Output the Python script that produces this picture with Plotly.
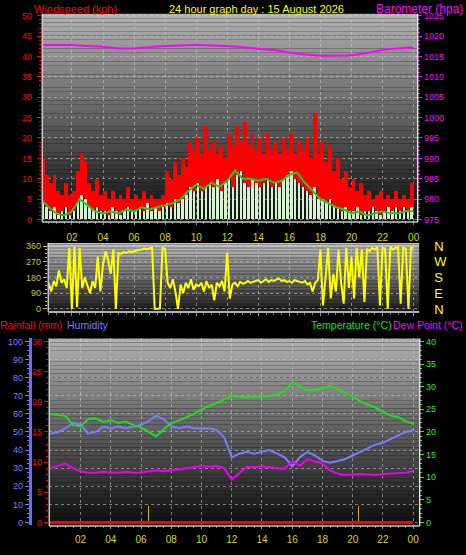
import plotly.graph_objects as go

W, H = 466, 555
def fx(p): return p / W
def fy(p): return 1 - p / H

# ---------------- data ----------------
# top panel: wind (15-minute blocks starting at each quarter hour)
wind_gust = [15, 11, 9, 11, 7, 6, 9, 6, 7, 12, 16, 14, 9, 7, 10, 6,
             7, 5, 7, 5, 6, 5, 8, 5, 6, 5, 7, 5, 6, 5, 5, 6,
             12, 10, 14, 11, 15, 13, 19, 17, 20, 16, 23, 17, 19, 16, 18, 15,
             21, 18, 23, 19, 24, 18, 21, 17, 20, 16, 21, 17, 19, 16, 20, 17,
             21, 16, 19, 17, 20, 15, 26, 16, 19, 14, 18, 12, 15, 10, 12, 8,
             10, 7, 9, 6, 7, 5, 6, 7, 5, 6, 5, 7, 5, 6, 5, 9]
wind_speed = [4, 3, 2, 3, 1, 2, 3, 1, 2, 4, 6, 5, 3, 2, 3, 2,
              2, 1, 3, 2, 1, 2, 3, 2, 2, 3, 2, 4, 2, 3, 2, 3,
              4, 3, 5, 4, 5, 6, 8, 7, 9, 7, 8, 9, 8, 10, 7, 9,
              10, 8, 11, 12, 9, 8, 10, 9, 8, 9, 10, 8, 9, 8, 10, 11,
              12, 10, 9, 8, 7, 6, 8, 5, 5, 4, 5, 3, 3, 2, 3, 2,
              2, 3, 1, 2, 2, 3, 2, 1, 2, 3, 2, 3, 2, 3, 2, 3]
t_quarter = [0.125 + 0.25 * i for i in range(len(wind_gust))]

# 10-minute average wind, half-hourly
wind_avg = [5, 3, 1.5, 1, 2, 5, 3.5, 2, 1.5, 2, 1.5, 2.5, 2, 3, 2.5, 3,
            3.5, 4, 5, 7, 8.5, 7.5, 9, 8, 9.5, 12, 10, 10, 9.5, 10, 9, 9.5,
            11, 11.5, 9, 7, 5, 4, 3, 2.5, 1.5, 2, 1, 1.5, 2, 1.5, 1.5, 2, 2]
t_half = [0.5 * i for i in range(len(wind_avg))]

# barometer, hourly
baro = [1017.8, 1017.8, 1017.8, 1017.6, 1017.4, 1017.0, 1017.0, 1017.3, 1017.6,
        1017.7, 1017.8, 1017.7, 1017.6, 1017.3, 1016.9, 1016.6, 1016.0, 1015.5,
        1015.2, 1015.2, 1015.3, 1015.9, 1016.6, 1017.0, 1017.2]
t_hour = [float(i) for i in range(len(baro))]

# middle panel: wind direction (deg), every 10 minutes from 00:30
wind_dir = [150, 100, 160,
            130, 220, 150, 170, 120, 350,
            0, 355, 10, 350, 120, 180,
            130, 90, 160, 120, 300, 100,
            250, 330, 280, 200, 340, 0,
            320, 315, 325, 320, 330, 325,
            330, 335, 338, 340, 345, 342,
            348, 350, 0, 0, 2, 350,
            345, 150, 120, 170, 100, 0,
            140, 90, 150, 120, 170, 110,
            140, 130, 150, 100, 160, 120,
            140, 50, 150, 130, 160, 100,
            320, 60, 140, 150, 130, 155,
            145, 150, 160, 150, 155, 160,
            165, 150, 160, 170, 155, 165,
            160, 170, 175, 160, 165, 155,
            160, 150, 165, 160, 155, 150,
            160, 140, 150, 100, 150, 165,
            340, 20, 180, 350, 60, 200,
            100, 340, 150, 30, 350, 120,
            300, 60, 350, 180, 340, 40,
            345, 330, 350, 340, 355, 20,
            350, 345, 0, 355, 340, 350,
            355, 30, 350, 345, 0, 350,
            350]
t_dir = [0.5 + i / 6 for i in range(len(wind_dir))]

# bottom panel, half-hourly
temperature = [24.0, 23.8, 23.5, 21.5, 21.2, 22.8, 23.0, 22.2, 22.6, 22.0, 22.3, 21.5,
               21.0, 20.0, 19.0, 20.6, 22.0, 22.5, 23.2, 24.0, 25.0, 25.8, 26.4, 27.2,
               28.0, 27.8, 27.6, 27.8, 27.9, 28.0, 28.3, 29.0, 30.9, 30.2, 29.2, 29.3,
               29.6, 30.2, 29.4, 28.6, 27.8, 26.8, 26.0, 25.4, 24.5, 23.6, 23.3, 22.4, 21.8]
humidity = [49, 50, 52, 55, 54, 49, 50, 53, 52, 53, 52, 53, 54, 56, 59, 57, 53, 52,
            53, 52, 52, 52, 51, 47, 36, 38, 39, 38, 39, 40, 38, 36, 31, 36, 39, 37,
            34, 33, 34, 35, 37, 39, 41, 43, 44, 46, 48, 50, 51]
dew_point = [12.0, 12.5, 13.0, 12.0, 11.3, 11.0, 11.0, 11.2, 11.0, 11.0, 11.2, 11.0,
             11.0, 11.3, 11.5, 11.3, 11.5, 11.8, 12.0, 12.2, 12.5, 12.3, 12.5, 12.0,
             9.5, 11.0, 12.3, 12.2, 12.4, 12.2, 12.0, 11.8, 13.5, 12.5, 14.0, 13.5,
             13.0, 11.5, 10.8, 10.5, 10.6, 10.7, 10.6, 10.5, 10.7, 10.8, 10.8, 11.0, 11.4]
t_bottom = [0.5 * i for i in range(len(temperature))]

rainfall = [0] * 25
t_rain = [float(i) for i in range(25)]
rain_marks_t = [6.5, 20.4]
rain_marks_v = [2.8, 2.8]

hour_ticks = [2, 4, 6, 8, 10, 12, 14, 16, 18, 20, 22, 24]
hour_labels = ["02", "04", "06", "08", "10", "12", "14", "16", "18", "20", "22", "00"]

# ---------------- style ----------------
FONT = "Liberation Sans, Arial, sans-serif"
RED = "#ff0000"
MAG = "#ff00ff"
YEL = "#ffff00"
TICKYEL = "#d8d800"
HUMC = "#7b7bff"
TEMPC = "#22dd22"
GRID = "rgba(205,205,205,0.55)"

fig = go.Figure()

# top panel
fig.add_trace(go.Bar(x=t_quarter, y=[g - s for g, s in zip(wind_gust, wind_speed)], base=wind_speed,
                     width=0.25, marker=dict(color=RED, line=dict(width=0)), xaxis="x", yaxis="y"))
fig.add_trace(go.Bar(x=t_quarter, y=wind_speed, width=0.16,
                     marker=dict(color="#d6f2d2", line=dict(width=0)), xaxis="x", yaxis="y"))
fig.add_trace(go.Scatter(x=t_half, y=wind_avg, mode="lines", line=dict(color="#1ecc1e", width=2),
                         xaxis="x", yaxis="y"))
fig.add_trace(go.Scatter(x=t_hour, y=baro, mode="lines", line=dict(color=MAG, width=2, shape="spline"),
                         xaxis="x", yaxis="y2"))

# middle panel
fig.add_trace(go.Scatter(x=t_dir, y=wind_dir, mode="lines", line=dict(color=YEL, width=2),
                         xaxis="x2", yaxis="y3"))
fig.add_trace(go.Scatter(x=t_dir, y=wind_dir, mode="lines", line=dict(color="rgba(0,0,0,0)", width=0),
                         xaxis="x2", yaxis="y7", hoverinfo="skip"))

# bottom panel
fig.add_trace(go.Scatter(x=t_rain, y=rainfall, mode="lines", line=dict(color=RED, width=3),
                         xaxis="x3", yaxis="y4"))
fig.add_trace(go.Bar(x=rain_marks_t, y=rain_marks_v, width=0.08, marker=dict(color="#c8b400", line=dict(width=0)),
                     xaxis="x3", yaxis="y4"))
fig.add_trace(go.Scatter(x=t_bottom, y=humidity, mode="lines", line=dict(color=HUMC, width=2),
                         xaxis="x3", yaxis="y5"))
fig.add_trace(go.Scatter(x=t_bottom, y=dew_point, mode="lines", line=dict(color="#ee00ee", width=2),
                         xaxis="x3", yaxis="y6"))
fig.add_trace(go.Scatter(x=t_bottom, y=temperature, mode="lines", line=dict(color=TEMPC, width=2),
                         xaxis="x3", yaxis="y6"))

# ---------------- background gradients ----------------
shapes = []
def gradient(x0, x1, y0, y1, c_top, c_bot, n=48):
    for i in range(n):
        a = y0 + (y1 - y0) * i / n
        b = y0 + (y1 - y0) * (i + 1) / n
        f = (i + 0.5) / n
        c = int(round(c_top + (c_bot - c_top) * f))
        shapes.append(dict(type="rect", xref="paper", yref="paper", x0=fx(x0), x1=fx(x1),
                           y0=fy(b), y1=fy(a), fillcolor=f"rgb({c},{c},{c})",
                           line=dict(width=0), layer="below"))

def border(x0, y0, x1, y1, color="#c8c8c8", w=1.5):
    shapes.append(dict(type="line", xref="paper", yref="paper", x0=fx(x0), x1=fx(x1),
                       y0=fy(y0), y1=fy(y1), line=dict(color=color, width=w), layer="above"))

gradient(42, 419, 10, 221, 178, 14)
gradient(48, 421, 243, 313, 192, 28)
gradient(49, 421, 340, 530, 176, 12)
border(42.5, 10, 42.5, 221.5)
border(42.5, 221.5, 419.5, 221.5)
border(419.5, 10, 419.5, 221.5, "#e0e0e0")
border(48.5, 243, 48.5, 313)
border(48.5, 313, 421, 313, "#b0b0b0", 2)
border(49.5, 340, 49.5, 530.5)
border(49.5, 530.5, 421.5, 530.5)
border(421.5, 340, 421.5, 530.5, "#e0e0e0")

# ---------------- annotations ----------------
def label(text, x, y, color, anchor="left", size=12):
    return dict(text=text, x=fx(x), y=fy(y), xref="paper", yref="paper", xanchor=anchor,
                yanchor="middle", showarrow=False, borderpad=0,
                font=dict(family=FONT, size=size, color=color))

annotations = [
    label("Windspeed (kph)", 33, 5.5, RED, size=11),
    label("24 hour graph day : 15 August 2026", 258, 5.5, YEL, "center", 11),
    label("Barometer (hpa)", 466, 5.5, MAG, "right", 12),
    label("Rainfall (mm)", -1, 326, RED, size=10.5),
    label("Humidity", 66, 326, HUMC, size=10.5),
    label("Temperature (°C)", 311, 326, "#00ee00", size=10.5),
    label("Dew Point (°C)", 394, 326, MAG, size=10.5),
]

def xax(domain, rng, anchor, labels=True, standoff=3):
    return dict(domain=[fx(domain[0]), fx(domain[1])], range=rng, anchor=anchor,
                showgrid=True, gridcolor=GRID,
                griddash="dot", gridwidth=1, zeroline=False, showline=False,
                tickmode="array", tickvals=hour_ticks, ticktext=hour_labels,
                showticklabels=labels, ticks="outside", ticklen=3, tickcolor="#909090",
                minor=dict(dtick=0.5, ticks="outside", ticklen=2, tickcolor="#808080", showgrid=False),
                tickfont=dict(family=FONT, size=10, color=TICKYEL), ticklabelstandoff=standoff,
                fixedrange=True)

def yax(rng, vals, color, side="left", **kw):
    d = dict(range=rng, tickmode="array", tickvals=vals, side=side, zeroline=False, showline=False,
             ticks="outside", ticklen=4, tickcolor=color, tickfont=dict(family=FONT, size=9, color=color),
             showgrid=False, fixedrange=True)
    d.update(kw)
    return d

top_dom = [fy(221), fy(10)]
mid_dom = [fy(313), fy(243)]
bot_dom = [fy(530), fy(340)]

fig.update_layout(
    width=W, height=H, margin=dict(l=0, r=0, t=0, b=0),
    paper_bgcolor="#000000", plot_bgcolor="rgba(0,0,0,0)",
    showlegend=False, barmode="overlay", bargap=0,
    shapes=shapes, annotations=annotations,
    xaxis=xax([42, 419], [0.06, 24.23], "y", True, 4),
    xaxis2=xax([48, 421], [0.45, 24.36], "y3", False),
    xaxis3=xax([49, 421], [-0.105, 24.4], "y4", True, 2),
    yaxis=yax([-0.48, 50.48], list(range(0, 51, 5)), RED, domain=top_dom, anchor="x",
              showgrid=True, gridcolor=GRID, griddash="dot", ticklabelstandoff=3,
              minor=dict(dtick=1, ticks="outside", ticklen=2, tickcolor=RED, showgrid=False)),
    yaxis2=yax([974.52, 1025.48], list(range(975, 1026, 5)), MAG, side="right", overlaying="y",
               anchor="x", minor=dict(dtick=1, ticks="outside", ticklen=2, tickcolor=MAG, showgrid=False)),
    yaxis3=yax([-16.9, 376.9], [0, 90, 180, 270, 360], "#c8c832", domain=mid_dom, anchor="x2",
               showgrid=True, gridcolor=GRID, griddash="dot",
               minor=dict(dtick=22.5, ticks="outside", ticklen=2, tickcolor="#c8c832", showgrid=False)),
    yaxis7=dict(range=[-16.9, 376.9], overlaying="y3", anchor="x2", side="right", tickmode="array",
                tickvals=[0, 90, 180, 270, 360], ticktext=["N", "E", "S", "W", "N"], ticks="",
                tickfont=dict(family=FONT, size=13, color=YEL), ticklabelstandoff=14,
                showgrid=False, zeroline=False, showline=False, fixedrange=True),
    yaxis4=yax([-0.489, 30.489], list(range(0, 31, 5)), RED, domain=bot_dom, anchor="x3",
               minor=dict(dtick=1, ticks="outside", ticklen=2, tickcolor=RED, showgrid=False)),
    yaxis5=yax([-1.63, 101.63], list(range(0, 101, 10)), HUMC, overlaying="y4", anchor="free",
               position=fx(30), showline=True, linecolor="#6a6aff", linewidth=3,
               showgrid=True, gridcolor=GRID, griddash="dot",
               minor=dict(dtick=2.5, ticks="outside", ticklen=2, tickcolor=HUMC, showgrid=False)),
    yaxis6=yax([-0.652, 40.652], list(range(0, 41, 5)), "#22ee22", side="right", overlaying="y4",
               anchor="x3", minor=dict(dtick=1, ticks="outside", ticklen=2, tickcolor="#22ee22", showgrid=False)),
)

fig.write_html("out.html", config={"displayModeBar": False, "staticPlot": True},
               post_script="document.body.style.margin='0';document.body.style.overflow='hidden';")
